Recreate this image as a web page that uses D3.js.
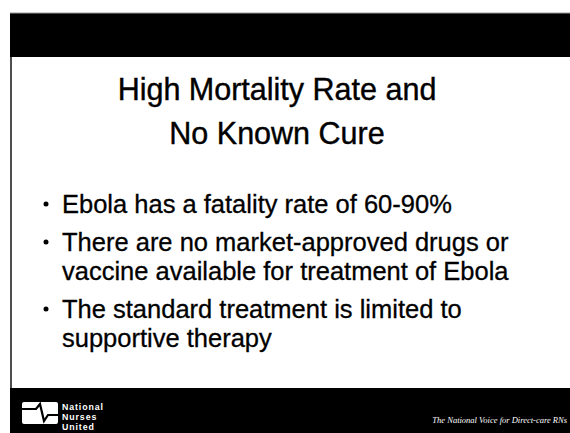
<!DOCTYPE html>
<html>
<head>
<meta charset="utf-8">
<script src="https://cdn.jsdelivr.net/npm/d3@7"></script>
<style>
  html, body { margin: 0; padding: 0; background: #fff; }
  svg { display: block; }
</style>
</head>
<body>
<svg id="slide" width="570" height="433"></svg>
<script>
// ---- content ----
const titleLines = ["High Mortality Rate and", "No Known Cure"];
const bullets = [
  ["Ebola has a fatality rate of 60-90%"],
  ["There are no market-approved drugs or", "vaccine available for treatment of Ebola"],
  ["The standard treatment is limited to", "supportive therapy"]
];
const logoLines = ["National", "Nurses", "United"];
const footerText = "The National Voice for Direct-care RNs";

// ---- drawing ----
const W = 570, H = 433;
const svg = d3.select("#slide");
const sans = "'Liberation Sans', Arial, Helvetica, sans-serif";

svg.append("rect").attr("width", W).attr("height", H).attr("fill", "#fff");

// top bar
svg.append("rect").attr("x", 10).attr("y", 13).attr("width", W - 10).attr("height", 44).attr("fill", "#000");
svg.append("line").attr("x1", 10).attr("x2", W).attr("y1", 13).attr("y2", 13)
  .attr("stroke", "#999").attr("stroke-width", 1);

// left border
svg.append("line").attr("x1", 11).attr("x2", 11).attr("y1", 57).attr("y2", 389)
  .attr("stroke", "#222").attr("stroke-width", 1.6);

// bottom bar
svg.append("rect").attr("x", 10).attr("y", 388).attr("width", W - 10).attr("height", H - 388).attr("fill", "#000");

// title
const titleY = d3.scaleLinear().domain([0, 1]).range([100, 144]);
svg.append("g").selectAll("text").data(titleLines).join("text")
  .attr("x", 277)
  .attr("y", (d, i) => titleY(i))
  .attr("text-anchor", "middle")
  .attr("font-family", sans)
  .attr("font-size", 30.5)
  .attr("fill", "#000")
  .attr("stroke", "#000")
  .attr("stroke-width", 0.4)
  .text(d => d);

// bullets
const lineGap = 29, paraGap = 38;
let y = 213;
const items = [];
bullets.forEach((lines) => {
  lines.forEach((ln, li) => {
    items.push({ text: ln, y: y, first: li === 0 });
    y += (li === lines.length - 1) ? paraGap : lineGap;
  });
});
const bg = svg.append("g");
bg.selectAll("circle").data(items.filter(d => d.first)).join("circle")
  .attr("cx", 46).attr("cy", d => d.y - 9).attr("r", 2.5).attr("fill", "#000");
bg.selectAll("text").data(items).join("text")
  .attr("x", 62).attr("y", d => d.y)
  .attr("font-family", sans)
  .attr("font-size", 25.5)
  .attr("fill", "#000")
  .attr("stroke", "#000")
  .attr("stroke-width", 0.3)
  .text(d => d.text);

// logo
const lg = svg.append("g");
lg.append("rect").attr("x", 22).attr("y", 402).attr("width", 36).attr("height", 22).attr("rx", 2).attr("fill", "#fff");
lg.append("path")
  .attr("d", "M22,409 L36,409 L40,404 L44,421 L48,415 L58,415")
  .attr("fill", "none").attr("stroke", "#000").attr("stroke-width", 2.2);
lg.selectAll("text").data(logoLines).join("text")
  .attr("x", 62).attr("y", (d, i) => 410 + i * 10)
  .attr("font-family", sans)
  .attr("font-weight", "bold")
  .attr("font-size", 8.8)
  .attr("letter-spacing", 0.9)
  .attr("fill", "#fff")
  .text(d => d);

// footer tagline
svg.append("text")
  .attr("x", 567).attr("y", 423)
  .attr("text-anchor", "end")
  .attr("font-family", "'Liberation Serif', 'Times New Roman', serif")
  .attr("font-style", "italic")
  .attr("font-size", 8.5)
  .attr("fill", "#fff")
  .text(footerText);
</script>
</body>
</html>
